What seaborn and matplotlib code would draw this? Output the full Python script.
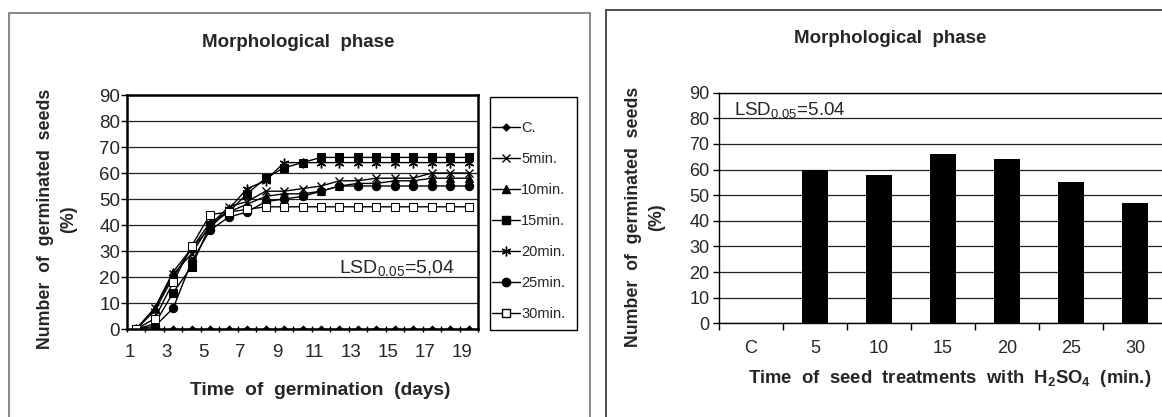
import matplotlib
matplotlib.use("Agg")
import matplotlib.pyplot as plt
from matplotlib.patches import Rectangle
from matplotlib.lines import Line2D
import seaborn as sns
import pandas as pd

# ---------------- data ----------------
days = [1, 2, 3, 4, 5, 6, 7, 8, 9, 10, 11, 12, 13, 14, 15, 16, 17, 18, 19]
day_labels = [1, 3, 5, 7, 9, 11, 13, 15, 17, 19]
series_names = ["C.", "5min.", "10min.", "15min.", "20min.", "25min.", "30min."]
s_c = [0, 0, 0, 0, 0, 0, 0, 0, 0, 0, 0, 0, 0, 0, 0, 0, 0, 0, 0]
s_5 = [0, 8, 21, 29, 40, 47, 49, 53, 53, 54, 55, 57, 57, 58, 58, 58, 60, 60, 60]
s_10 = [0, 8, 22, 31, 41, 45, 48, 51, 52, 52, 53, 55, 56, 56, 57, 57, 58, 58, 58]
s_15 = [0, 2, 14, 24, 40, 45, 52, 58, 62, 64, 66, 66, 66, 66, 66, 66, 66, 66, 66]
s_20 = [0, 7, 20, 31, 39, 46, 54, 57, 64, 64, 64, 64, 64, 64, 64, 64, 64, 64, 64]
s_25 = [0, 1, 8, 26, 38, 43, 45, 49, 50, 51, 53, 55, 55, 55, 55, 55, 55, 55, 55]
s_30 = [0, 4, 18, 32, 44, 45, 46, 47, 47, 47, 47, 47, 47, 47, 47, 47, 47, 47, 47]

bar_cats = ["C", "5", "10", "15", "20", "25", "30"]
bar_vals = [0, 60, 58, 66, 64, 55, 47]

# ---------------- style ----------------
sns.set_theme(style="white")
plt.rcParams["font.family"] = ["Liberation Sans", "DejaVu Sans"]
plt.rcParams["mathtext.fontset"] = "custom"
plt.rcParams["mathtext.rm"] = "Liberation Sans"
plt.rcParams["mathtext.it"] = "Liberation Sans:italic"
plt.rcParams["mathtext.bf"] = "Liberation Sans:bold"

W, H = 1162, 417
fig = plt.figure(figsize=(W / 100, H / 100), dpi=100)
fig.patch.set_facecolor("white")

# panel frames
fig.add_artist(Rectangle((9 / W, -0.1), (590 - 9) / W, (H - 13) / H + 0.1,
                         transform=fig.transFigure, fill=False, ec="#808080", lw=1.3))
fig.add_artist(Rectangle((606 / W, -0.1), 1.0, (H - 10) / H + 0.1,
                         transform=fig.transFigure, fill=False, ec="#404040", lw=1.3))

# ---------------- left: line chart ----------------
ax1 = fig.add_axes([127 / W, (H - 329) / H, 351 / W, 234 / H])
styles = [
    dict(marker="D", markersize=3.5, markerfacecolor="black"),
    dict(marker="x", markersize=6, markeredgewidth=1.0),
    dict(marker="^", markersize=6, markerfacecolor="black"),
    dict(marker="s", markersize=5.5, markerfacecolor="black"),
    dict(marker=(6, 2, 0), markersize=7, markeredgewidth=1.0),
    dict(marker="o", markersize=6, markerfacecolor="black"),
    dict(marker="s", markersize=6, markerfacecolor="white"),
]
all_series = [s_c, s_5, s_10, s_15, s_20, s_25, s_30]
handles = []
for name, vals, st in zip(series_names, all_series, styles):
    df = pd.DataFrame({"day": days, "pct": vals})
    sns.lineplot(data=df, x="day", y="pct", ax=ax1, color="black", lw=1.0,
                 markeredgecolor="black", legend=False, **st)
    handles.append(Line2D([], [], color="black", lw=1.0, markeredgecolor="black", **st))

ax1.set_xlim(0.5, 19.5)
ax1.set_ylim(0, 90)
ax1.set_yticks(range(0, 91, 10))
ax1.yaxis.grid(True, color="#222222", lw=0.9)
ax1.set_axisbelow(True)
ax1.set_xticks([d - 0.36 for d in day_labels])
ax1.set_xticklabels([str(d) for d in day_labels])
ax1.set_xticks([d - 0.5 for d in days] + [19.5], minor=True)
ax1.tick_params(axis="x", which="major", length=0, pad=11, labelsize=13.5)
ax1.tick_params(axis="x", which="minor", bottom=True, length=5, width=1,
                direction="inout", color="black")
ax1.tick_params(axis="y", left=True, length=4, width=1, direction="out",
                pad=1, labelsize=13.5, color="black")
for sp in ax1.spines.values():
    sp.set_color("black")
    sp.set_linewidth(1.8)
ax1.set_xlabel("Time  of  germination  (days)", fontsize=13.8, fontweight="bold")
ax1.xaxis.set_label_coords(0.55, -0.262)
ax1.xaxis.label.set_va("center")
ax1.set_ylabel("Number  of  germinated  seeds\n(%)", fontsize=12.8, fontweight="bold",
               linespacing=1.5)
ax1.yaxis.set_label_coords(-0.199, 0.47)
ax1.yaxis.label.set_va("center")
ax1.set_title("Morphological  phase", fontsize=13.5, fontweight="bold",
              x=0.487, y=1.226, va="center", pad=0)
ax1.text(0.604, 0.26, "LSD$_{\\mathrm{0.05}}$=5,04", transform=ax1.transAxes,
         fontsize=14, va="center", ha="left")

# legend box (frame drawn as figure decoration) + entries
fig.add_artist(Rectangle((490 / W, (H - 330) / H), (577 - 490) / W, (330 - 97) / H,
                         transform=fig.transFigure, fill=False, ec="black", lw=1.0))
leg = ax1.legend(handles, series_names, loc="center left",
                 bbox_to_anchor=(492 / W, (H - 221) / H), bbox_transform=fig.transFigure,
                 frameon=False, fontsize=10.5, numpoints=1, handlelength=1.9,
                 handletextpad=0.1, labelspacing=1.17, borderpad=0, borderaxespad=0)

# ---------------- right: bar chart ----------------
ax2 = fig.add_axes([719 / W, (H - 323.3) / H, 448 / W, 230.6 / H])
bdf = pd.DataFrame({"cat": bar_cats, "val": bar_vals})
sns.barplot(data=bdf, x="cat", y="val", order=bar_cats, color="black",
            saturation=1, width=0.41, ax=ax2, edgecolor="none")
ax2.set_xlim(-0.5, 6.5)
ax2.set_ylim(0, 90)
ax2.set_yticks(range(0, 91, 10))
ax2.yaxis.grid(True, color="#222222", lw=0.9)
ax2.set_axisbelow(True)
ax2.set_xticks([i - 0.5 for i in range(len(bar_cats) + 1)], minor=True)
ax2.tick_params(axis="x", which="major", length=0, pad=12, labelsize=13)
ax2.tick_params(axis="x", which="minor", bottom=True, length=5, width=1,
                direction="out", color="black")
ax2.tick_params(axis="y", left=True, length=4, width=1, direction="out",
                pad=3, labelsize=13, color="black")
for name, sp in ax2.spines.items():
    sp.set_color("black")
    sp.set_linewidth(1.0)
ax2.spines["right"].set_visible(False)
ax2.set_xlabel("Time  of  seed  treatments  with  H$_\\mathbf{2}$SO$_\\mathbf{4}$  (min.)",
               fontsize=13.3, fontweight="bold")
ax2.xaxis.set_label_coords(0.515, -0.24)
ax2.xaxis.label.set_va("center")
ax2.set_ylabel("Number  of  germinated  seeds\n(%)", fontsize=12.8, fontweight="bold",
               linespacing=1.5)
ax2.yaxis.set_label_coords(-0.165, 0.461)
ax2.yaxis.label.set_va("center")
ax2.set_title("Morphological  phase", fontsize=13.5, fontweight="bold",
              x=0.382, y=1.233, va="center", pad=0)
ax2.text(0.033, 0.925, "LSD$_{\\mathrm{0.05}}$=5.04", transform=ax2.transAxes,
         fontsize=13.5, va="center", ha="left")

fig.savefig("out.png", dpi=100, facecolor="white")
